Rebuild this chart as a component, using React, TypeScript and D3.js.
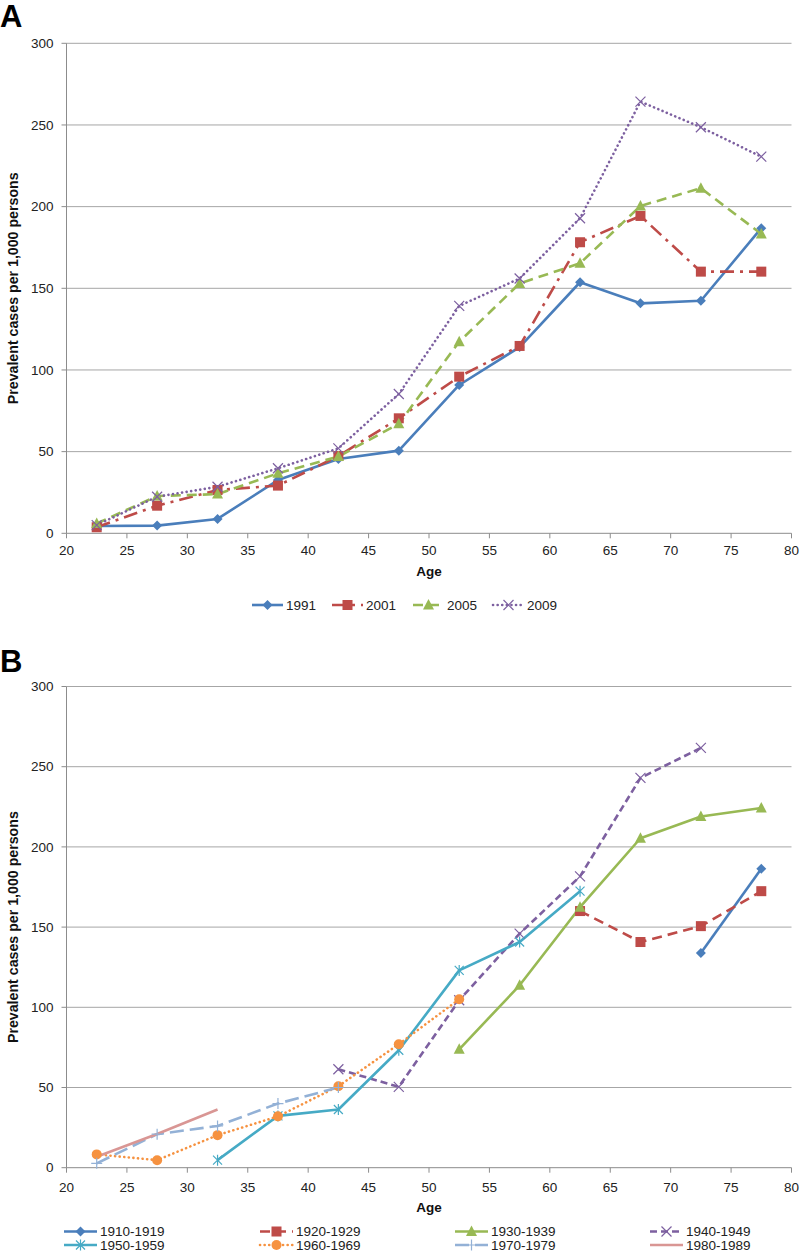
import React from "react";
import * as d3 from "d3";

// ---------- DATA ----------
const agesA = [22.5, 27.5, 32.5, 37.5, 42.5, 47.5, 52.5, 57.5, 62.5, 67.5, 72.5, 77.5];
const yearsA = ["1991", "2001", "2005", "2009"];
const val1991 = [4.5, 4.7, 8.8, 32.6, 45.5, 50.6, 90.8, 114, 153.7, 140.8, 142.4, 186.8];
const val2001 = [3.7, 16.9, 26.5, 29.2, 47.3, 70.4, 95.9, 114.7, 178.2, 194.3, 160.2, 160.2];
const val2005 = [6, 22.8, 24, 36.7, 47, 67, 117.3, 153, 165.3, 200.4, 211.3, 183.3];
const val2009 = [5, 22.4, 28.5, 39.8, 52, 85.3, 139.2, 156, 192.9, 264.3, 248.6, 230.6];

const cohortsB = ["1910-1919", "1920-1929", "1930-1939", "1940-1949", "1950-1959", "1960-1969", "1970-1979", "1980-1989"];
const ages1910 = [72.5, 77.5];
const val1910 = [133.8, 186.4];
const ages1920 = [62.5, 67.5, 72.5, 77.5];
const val1920 = [160, 140.7, 150.6, 172.4];
const ages1930 = [52.5, 57.5, 62.5, 67.5, 72.5, 77.5];
const val1930 = [73.8, 113.7, 162.4, 205.4, 218.9, 224.3];
const ages1940 = [42.5, 47.5, 52.5, 57.5, 62.5, 67.5, 72.5];
const val1940 = [61.4, 50.4, 104.4, 145.9, 181.6, 243, 261.7];
const ages1950 = [32.5, 37.5, 42.5, 47.5, 52.5, 57.5, 62.5];
const val1950 = [4.7, 32.3, 36.3, 73.2, 123, 140.7, 172.4];
const ages1960 = [22.5, 27.5, 32.5, 37.5, 42.5, 47.5, 52.5];
const val1960 = [8.3, 4.7, 20.3, 32, 50.8, 77, 105];
const ages1970 = [22.5, 27.5, 32.5, 37.5, 42.5];
const val1970 = [2.7, 20.9, 26, 40, 50];
const ages1980 = [22.5, 27.5, 32.5];
const val1980 = [6.8, 21, 36.3];

const xTicks = [20, 25, 30, 35, 40, 45, 50, 55, 60, 65, 70, 75, 80];
const yTicks = [0, 50, 100, 150, 200, 250, 300];

// ---------- STYLE ----------
const FONT = "'Liberation Sans', Arial, Helvetica, sans-serif";
const C = {
  blue: "#4A7EBB",
  red: "#BE4B48",
  green: "#98B954",
  purple: "#7D60A0",
  teal: "#46AAC5",
  orange: "#F69240",
  lblue: "#93B1D6",
  pink: "#D99694",
};

type Marker = "diamond" | "square" | "triangle" | "x" | "asterisk" | "circle" | "plus" | "none";
interface Series {
  name: string;
  ages: number[];
  values: number[];
  color: string;
  dash?: string;
  round?: boolean;
  marker: Marker;
}

const seriesA: Series[] = [
  { name: yearsA[0], ages: agesA, values: val1991, color: C.blue, marker: "diamond" },
  { name: yearsA[1], ages: agesA, values: val2001, color: C.red, dash: "14,6,3,6", marker: "square" },
  { name: yearsA[2], ages: agesA, values: val2005, color: C.green, dash: "10,6", marker: "triangle" },
  { name: yearsA[3], ages: agesA, values: val2009, color: C.purple, dash: "0.1,4.5", round: true, marker: "x" },
];

const seriesB: Series[] = [
  { name: cohortsB[0], ages: ages1910, values: val1910, color: C.blue, marker: "diamond" },
  { name: cohortsB[1], ages: ages1920, values: val1920, color: C.red, dash: "10,6", marker: "square" },
  { name: cohortsB[2], ages: ages1930, values: val1930, color: C.green, marker: "triangle" },
  { name: cohortsB[3], ages: ages1940, values: val1940, color: C.purple, dash: "7,4", marker: "x" },
  { name: cohortsB[4], ages: ages1950, values: val1950, color: C.teal, marker: "asterisk" },
  { name: cohortsB[5], ages: ages1960, values: val1960, color: C.orange, dash: "0.1,4.5", round: true, marker: "circle" },
  { name: cohortsB[6], ages: ages1970, values: val1970, color: C.lblue, dash: "14,6", marker: "plus" },
  { name: cohortsB[7], ages: ages1980, values: val1980, color: C.pink, marker: "none" },
];

function MarkerShape({ type, cx, cy, color }: { type: Marker; cx: number; cy: number; color: string }) {
  switch (type) {
    case "diamond":
      return <path d={`M${cx},${cy - 5}L${cx + 5},${cy}L${cx},${cy + 5}L${cx - 5},${cy}Z`} fill={color} />;
    case "square":
      return <rect x={cx - 5} y={cy - 5} width={10} height={10} fill={color} />;
    case "triangle":
      return <path d={`M${cx},${cy - 6}L${cx + 5.5},${cy + 4.5}L${cx - 5.5},${cy + 4.5}Z`} fill={color} />;
    case "x":
      return (
        <path
          d={`M${cx - 5},${cy - 5}L${cx + 5},${cy + 5}M${cx - 5},${cy + 5}L${cx + 5},${cy - 5}`}
          stroke={color}
          strokeWidth={1.2}
          fill="none"
        />
      );
    case "asterisk":
      return (
        <path
          d={`M${cx - 4.5},${cy - 4.5}L${cx + 4.5},${cy + 4.5}M${cx - 4.5},${cy + 4.5}L${cx + 4.5},${cy - 4.5}M${cx},${cy - 5.5}L${cx},${cy + 5.5}`}
          stroke={color}
          strokeWidth={1.2}
          fill="none"
        />
      );
    case "circle":
      return <circle cx={cx} cy={cy} r={5} fill={color} />;
    case "plus":
      return (
        <path
          d={`M${cx - 5.5},${cy}L${cx + 5.5},${cy}M${cx},${cy - 5.5}L${cx},${cy + 5.5}`}
          stroke={color}
          strokeWidth={1.2}
          fill="none"
        />
      );
    default:
      return null;
  }
}

const X_LEFT = 66.5;
const X_RIGHT = 791.5;

function Panel({
  top,
  bottom,
  series,
  letter,
  letterY,
  tickLabelY,
  ageY,
}: {
  top: number;
  bottom: number;
  series: Series[];
  letter: string;
  letterY: number;
  tickLabelY: number;
  ageY: number;
}) {
  const x = d3.scaleLinear().domain([20, 80]).range([X_LEFT, X_RIGHT]);
  const y = d3.scaleLinear().domain([0, 300]).range([bottom, top]);
  const line = d3
    .line<[number, number]>()
    .x((d) => x(d[0]))
    .y((d) => y(d[1]));
  return (
    <g>
      <text x={0} y={letterY} fontFamily={FONT} fontWeight="bold" fontSize={31} fill="#000">
        {letter}
      </text>
      {yTicks.map((t) => (
        <g key={"g" + t}>
          {t > 0 && <line x1={X_LEFT} x2={X_RIGHT} y1={y(t)} y2={y(t)} stroke="#A6A6A6" strokeWidth={1} />}
          <line x1={X_LEFT - 5} x2={X_LEFT} y1={y(t)} y2={y(t)} stroke="#8C8C8C" strokeWidth={1} />
          <text
            x={X_LEFT - 13}
            y={y(t)}
            dy="0.35em"
            textAnchor="end"
            fontFamily={FONT}
            fontSize={13.5}
            fill="#222"
          >
            {t}
          </text>
        </g>
      ))}
      <line x1={X_LEFT} x2={X_LEFT} y1={top} y2={bottom} stroke="#8C8C8C" strokeWidth={1} />
      <line x1={X_LEFT} x2={X_RIGHT} y1={bottom} y2={bottom} stroke="#8C8C8C" strokeWidth={1} />
      {xTicks.map((t) => (
        <g key={"x" + t}>
          <line x1={x(t)} x2={x(t)} y1={bottom} y2={bottom + 5} stroke="#8C8C8C" strokeWidth={1} />
          <text x={x(t)} y={tickLabelY} dy="0.35em" textAnchor="middle" fontFamily={FONT} fontSize={13.5} fill="#222">
            {t}
          </text>
        </g>
      ))}
      <text
        transform={`translate(13,${(top + bottom) / 2}) rotate(-90)`}
        textAnchor="middle"
        dy="0.35em"
        fontFamily={FONT}
        fontWeight="bold"
        fontSize={14.2}
        fill="#111"
      >
        Prevalent cases per 1,000 persons
      </text>
      <text x={429} y={ageY} dy="0.35em" textAnchor="middle" fontFamily={FONT} fontWeight="bold" fontSize={13.5} fill="#111">
        Age
      </text>
      {series.map((s) => {
        const pts: [number, number][] = s.ages.map((a, i) => [a, s.values[i]]);
        return (
          <path
            key={"l" + s.name}
            d={line(pts) || ""}
            fill="none"
            stroke={s.color}
            strokeWidth={2.6}
            strokeDasharray={s.dash}
            strokeLinecap={s.round ? "round" : "butt"}
            strokeLinejoin="round"
          />
        );
      })}
      {series.map((s) => (
        <g key={"m" + s.name}>
          {s.ages.map((a, i) => (
            <MarkerShape key={i} type={s.marker} cx={x(a)} cy={y(s.values[i])} color={s.color} />
          ))}
        </g>
      ))}
    </g>
  );
}

function LegendItem({ s, x0, cy, len }: { s: Series; x0: number; cy: number; len: number }) {
  return (
    <g>
      <line
        x1={x0}
        x2={x0 + len}
        y1={cy}
        y2={cy}
        stroke={s.color}
        strokeWidth={2.6}
        strokeDasharray={s.dash}
        strokeLinecap={s.round ? "round" : "butt"}
      />
      <MarkerShape type={s.marker} cx={x0 + len / 2} cy={cy} color={s.color} />
      <text x={x0 + len + 3} y={cy} dy="0.35em" fontFamily={FONT} fontSize={13.5} fill="#222">
        {s.name}
      </text>
    </g>
  );
}

export default function App() {
  const legendAX = [252, 332, 413, 493];
  const legendBX = [64, 260, 455, 650];
  const legendBY = [1231.5, 1245];
  return (
    <svg
      width={800}
      height={1252}
      viewBox="0 0 800 1252"
      style={{ position: "absolute", left: 0, top: 0, background: "#fff" }}
    >
      <rect x={0} y={0} width={800} height={1252} fill="#fff" />
      <Panel top={43.3} bottom={533.3} series={seriesA} letter="A" letterY={27} tickLabelY={550.7} ageY={571.7} />
      {seriesA.map((s, i) => (
        <LegendItem key={s.name} s={s} x0={legendAX[i]} cy={605} len={31} />
      ))}
      <Panel top={686.5} bottom={1167.7} series={seriesB} letter="B" letterY={672} tickLabelY={1187} ageY={1207} />
      {seriesB.map((s, i) => (
        <LegendItem key={s.name} s={s} x0={legendBX[i % 4]} cy={legendBY[Math.floor(i / 4)]} len={33} />
      ))}
    </svg>
  );
}
